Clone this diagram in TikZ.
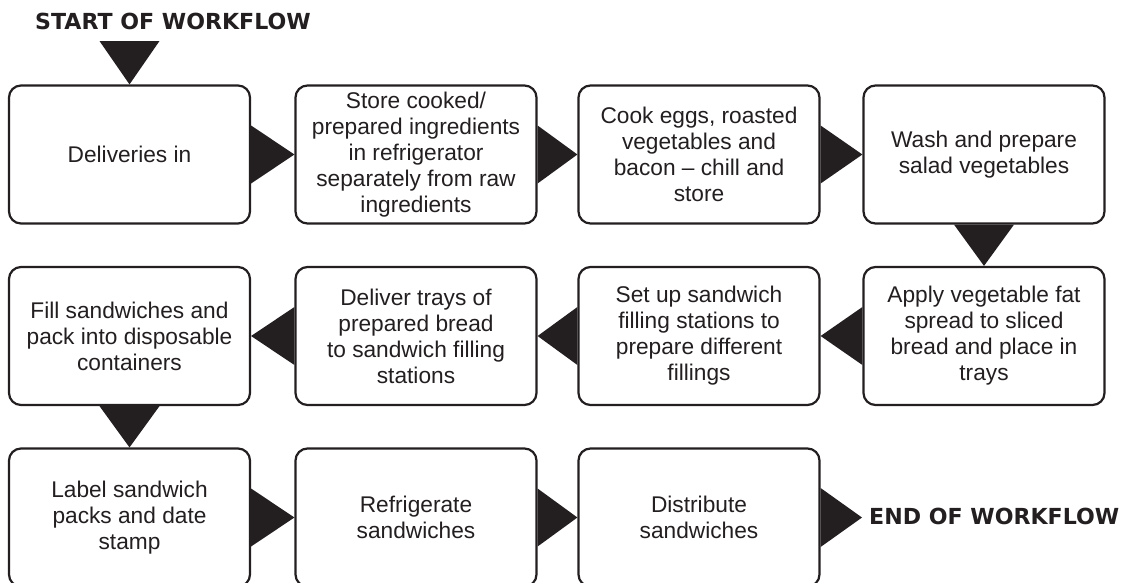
\documentclass[tikz,border=0pt]{standalone}
\usepackage{fontspec}
\setmainfont{Liberation Sans}
\newfontfamily\headfont{DejaVu Sans}
\usetikzlibrary{calc}
\definecolor{ink}{RGB}{35,31,32}
\begin{document}
\begin{tikzpicture}[x=1pt,y=1pt,
  box/.style={draw=ink, line width=2.2pt, rounded corners=12pt, fill=white,
    minimum width=241pt, minimum height=138pt, align=center, text=ink,
    inner sep=2pt, font=\fontsize{22.7}{26}\selectfont},
  head/.style={anchor=base west, inner sep=0pt, text=ink,
    font=\headfont\bfseries\fontsize{22.1}{26}\selectfont},
  tri/.style={fill=ink}]
\useasboundingbox (0,0) rectangle (1121,-582);
% row 1
\node[box] (n1) at (129.5,-154.5) {Deliveries in};
\node[box] (n2) at (416,-154.5) {Store cooked/\\prepared ingredients\\in refrigerator\\separately from raw\\ingredients};
\node[box] (n3) at (699,-154.5) {Cook eggs, roasted\\vegetables and\\bacon – chill and\\store};
\node[box] (n4) at (984,-154.5) {Wash and prepare\\salad vegetables};
% row 2
\node[box] (n5) at (984,-336) {Apply vegetable fat\\spread to sliced\\bread and place in\\trays};
\node[box] (n6) at (699,-336) {Set up sandwich\\filling stations to\\prepare different\\fillings};
\node[box] (n7) at (416,-336) {Deliver trays of\\prepared bread\\to sandwich filling\\stations};
\node[box] (n8) at (129.5,-336) {Fill sandwiches and\\pack into disposable\\containers};
% row 3
\node[box] (n9) at (129.5,-517.5) {Label sandwich\\packs and date\\stamp};
\node[box] (n10) at (416,-517.5) {Refrigerate\\sandwiches};
\node[box] (n11) at (699,-517.5) {Distribute\\sandwiches};
% start / end
\node[head] (start) at (35,-29.5) {START OF WORKFLOW};
\coordinate (s) at (129.5,-41);
\node[head] (end) at (869,-524.3) {END OF WORKFLOW};
\coordinate (e) at (862,-517.5);
% arrows
\fill[tri] ($(s)+(-30,0)$) -- (n1.north) -- ($(s)+(30,0)$) -- cycle;
\fill[tri] ($(n1.east)+(0,29)$) -- (n2.west) -- ($(n1.east)+(0,-29)$) -- cycle;
\fill[tri] ($(n2.east)+(0,29)$) -- (n3.west) -- ($(n2.east)+(0,-29)$) -- cycle;
\fill[tri] ($(n3.east)+(0,29)$) -- (n4.west) -- ($(n3.east)+(0,-29)$) -- cycle;
\fill[tri] ($(n4.south)+(-30,0)$) -- (n5.north) -- ($(n4.south)+(30,0)$) -- cycle;
\fill[tri] ($(n5.west)+(0,29)$) -- (n6.east) -- ($(n5.west)+(0,-29)$) -- cycle;
\fill[tri] ($(n6.west)+(0,29)$) -- (n7.east) -- ($(n6.west)+(0,-29)$) -- cycle;
\fill[tri] ($(n7.west)+(0,29)$) -- (n8.east) -- ($(n7.west)+(0,-29)$) -- cycle;
\fill[tri] ($(n8.south)+(-30,0)$) -- (n9.north) -- ($(n8.south)+(30,0)$) -- cycle;
\fill[tri] ($(n9.east)+(0,29)$) -- (n10.west) -- ($(n9.east)+(0,-29)$) -- cycle;
\fill[tri] ($(n10.east)+(0,29)$) -- (n11.west) -- ($(n10.east)+(0,-29)$) -- cycle;
\fill[tri] ($(n11.east)+(0,29.5)$) -- (e) -- ($(n11.east)+(0,-29.5)$) -- cycle;
\end{tikzpicture}
\end{document}
